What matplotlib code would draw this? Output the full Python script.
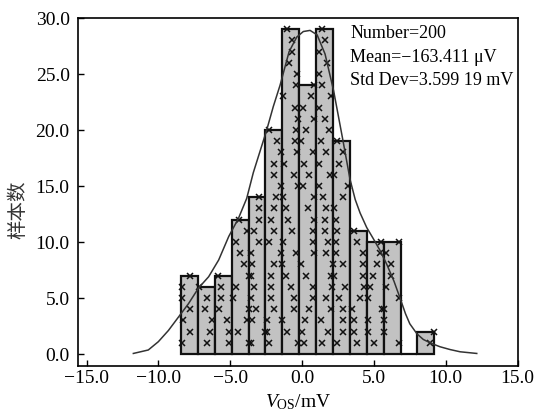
import matplotlib
matplotlib.use("Agg")
import matplotlib.pyplot as plt
import numpy as np

# ---- data ----
bin_start = -8.42
bin_width = 1.175
counts = [7, 6, 7, 12, 14, 20, 29, 24, 29, 19, 11, 10, 10, 0, 2]

# fractional x-position of each sample marker inside its bin (bottom -> top)
marker_frac = [
    [.04, .52, .13, .52, .04, .04, .52],
    [.53, .73, .82, .41, .53, .08],
    [.84, .84, .71, .22, .35, .35, .2],
    [1.0, .38, .9, 1.0, .08, .24, 1.0, .74, .5, .24, .9, .45],
    [.13, 1.0, .23, .42, .13, .33, .13, .23, .13, .62, .33, .62, .62, .62],
    [.2, .1, .1, .5, .3, .3, .3, .5, .9, .2, .5, .3, .5, .6, .9, .5, .5, .9, .7, .2],
    [.95, .3, .0, .7, .7, .5, .2, .0, .8, .05, .55, .35, .2, .05, .95, .7, .1, .85,
     .75, .8, .95, .75, .05, .8, .85, .4, .55, .55, .3],
    [.3, .15, .35, .6, .8, .8, .4, .1, .9, .8, .8, .85, .5, .9, .2, .6, .3, .8, .1,
     .4, .85, .2, .7, .9],
    [.35, .7, .3, .9, .6, .95, .9, 1.0, .6, .7, .5, .5, .6, .4, .2, .85, .15, .6, .3,
     .75, .5, .2, .9, .35, .15, .65, .2, .55, .35],
    [.24, .57, .57, .57, .37, .7, .04, .57, .18, .18, .24, .18, .04, .57, .86, .04,
     .37, .57, .24],
    [.41, .25, .25, .1, .61, .84, .78, .78, .75, .41, .22],
    [.43, .08, .08, .9, .08, .2, .39, .6, .78, .82],
    [.9, .02, .02, .0, .9, .12, .41, .45, .12, .9],
    [],
    [.76, .96],
]

curve_x = [-11.74, -10.7, -10.0, -9.3, -8.6, -7.9, -7.2, -6.5, -5.8, -5.1, -4.43,
           -3.85, -3.39, -2.9, -2.46, -2.0, -1.53, -0.9, -0.37, 0.09, 0.56, 1.05, 1.6,
           2.2, 2.8, 3.34, 3.7, 4.04, 4.5, 4.96, 5.45, 5.9, 6.4, 6.82, 7.2, 7.5, 8.0,
           8.44, 9.0, 9.6, 10.3, 11.0, 12.16]
curve_y = [0.05, 0.36, 1.1, 2.1, 3.3, 4.5, 5.9, 6.9, 8.4, 10.5, 12.1,
           13.9, 16.2, 18.2, 20.0, 22.1, 24.0, 27.0, 28.3, 28.8, 28.9, 28.5, 26.8,
           23.5, 19.4, 15.6, 13.8, 12.6, 11.3, 10.3, 9.2, 8.0, 6.5, 5.0, 3.6, 2.7, 1.8,
           1.3, 0.95, 0.65, 0.4, 0.2, 0.05]

x_ticks = [-15, -10, -5, 0, 5, 10, 15]
y_ticks = [0, 5, 10, 15, 20, 25, 30]
stats_lines = ["Number=200", "Mean=\u2212163.411 \u03bcV", "Std Dev=3.599 19 mV"]

# ---- style ----
plt.rcParams['font.family'] = ['Liberation Serif', 'DejaVu Serif']
plt.rcParams['mathtext.fontset'] = 'custom'
plt.rcParams['mathtext.rm'] = 'Liberation Serif'
plt.rcParams['mathtext.it'] = 'Liberation Serif:italic'

fig = plt.figure(figsize=(5.37, 4.11), dpi=100)
ax = fig.add_axes([0.1453, 0.1095, 0.8193, 0.8465])

edges = bin_start + bin_width * np.arange(len(counts))
ax.bar(edges, counts, width=bin_width, align='edge', color='#c2c2c2',
       edgecolor='#111111', linewidth=1.6, zorder=2)

mx, my = [], []
for i, fr in enumerate(marker_frac):
    for k, f in enumerate(fr):
        mx.append(edges[i] + f * bin_width)
        my.append(k + 1)
ax.plot(mx, my, linestyle='none', marker='x', markersize=4, color='#111111',
        markeredgewidth=1.1, zorder=3)

ax.plot(curve_x, curve_y, color='#333333', linewidth=1.1, zorder=4)

ax.set_xlim(-15.59, 15.03)
ax.set_ylim(-1.07, 30.0)
ax.set_xticks(x_ticks)
ax.set_xticklabels([f"{v:.1f}".replace('-', '\u2212') for v in x_ticks])
ax.set_yticks(y_ticks)
ax.set_yticklabels([f"{v:.1f}" for v in y_ticks])
ax.tick_params(direction='in', length=4, width=1, labelsize=14)
ax.tick_params(axis='y', pad=6)
ax.tick_params(axis='x', pad=3)
for s in ax.spines.values():
    s.set_linewidth(1.2)

ax.set_xlabel(r'$V_{\mathrm{OS}}$/mV', fontsize=14, labelpad=4)
ax.set_ylabel('样本数', family=['Noto Sans CJK SC', 'DejaVu Sans'], fontsize=14,
              color='#333333')
ax.yaxis.set_label_coords(-0.112, 0.45)

for line, yy in zip(stats_lines, [28.2, 26.07, 24.0]):
    ax.text(3.34, yy, line, fontsize=13, va='baseline', ha='left', zorder=5)

fig.savefig('out.png', dpi=100)
